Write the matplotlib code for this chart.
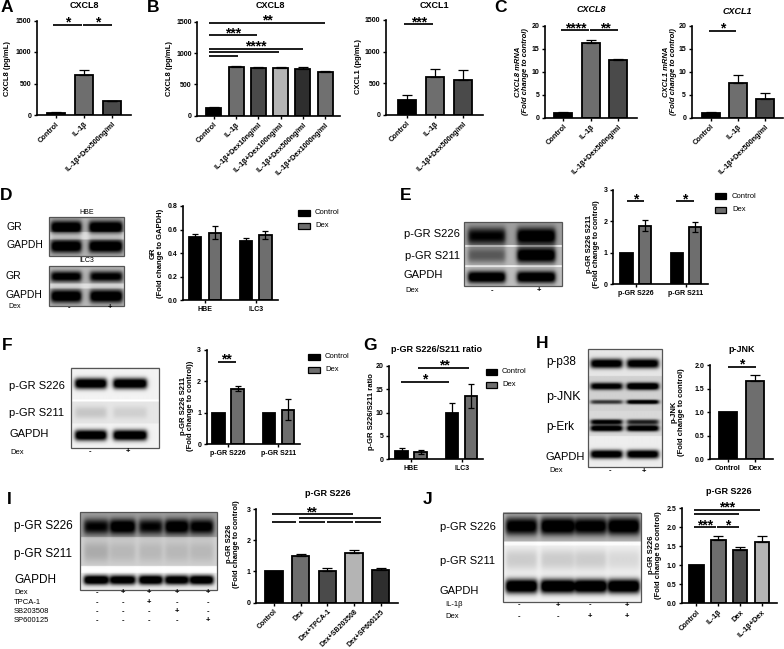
import matplotlib
matplotlib.use('Agg')
import matplotlib.pyplot as plt
from matplotlib.patches import Rectangle
import numpy as np

plt.rcParams['font.family'] = ['Liberation Sans', 'DejaVu Sans']

# values
a_labels = ['Control', 'IL-1β', 'IL-1β+Dex500ng/ml']
a_vals = [30, 635, 215]
a_errs = [10, 85, 10]

b_labels = ['Control', 'IL-1β', 'IL-1β+Dex10ng/ml', 'IL-1β+Dex100ng/ml', 'IL-1β+Dex500ng/ml', 'IL-1β+Dex1000ng/ml']
b_vals = [115, 775, 760, 755, 748, 690]
b_errs = [20, 20, 25, 18, 25, 30]

b2_vals = [230, 591, 549]
b2_errs = [87, 132, 164]

c1_vals = [1.0, 16.3, 12.5]
c1_errs = [0.15, 0.6, 0.4]
c2_vals = [1.0, 7.5, 4.1]
c2_errs = [0.2, 1.85, 1.2]

group_series = ['Control', 'Dex']
d_groups = ['HBE', 'ILC3']
d_control = [0.535, 0.50]
d_control_err = [0.03, 0.03]
d_dex = [0.575, 0.555]
d_dex_err = [0.055, 0.035]

e_groups = ['p-GR S226', 'p-GR S211']
e_control = [1, 1]
e_control_err = [0, 0]
e_dex = [1.87, 1.82]
e_dex_err = [0.17, 0.17]

f_control = [1, 1]
f_control_err = [0, 0]
f_dex = [1.76, 1.1]
f_dex_err = [0.08, 0.33]

g_control = [1.7, 9.8]
g_control_err = [0.8, 2.2]
g_dex = [1.5, 13.5]
g_dex_err = [0.4, 2.5]

h_labels = ['Control', 'Dex']
h_vals = [1, 1.67]
h_errs = [0, 0.12]

i_labels = ['Control', 'Dex', 'Dex+TPCA-1', 'Dex+SB203508', 'Dex+SP600125']
i_vals = [1, 1.5, 1.02, 1.6, 1.06]
i_errs = [0, 0.07, 0.08, 0.1, 0.05]

j_labels = ['Control', 'IL-1β', 'Dex', 'IL-1β+Dex']
j_vals = [1, 1.66, 1.4, 1.61]
j_errs = [0, 0.1, 0.07, 0.15]

W, H = 784, 649
greys = ['#000000', '#6e6e6e', '#4a4a4a', '#b4b4b4', '#2e2e2e', '#707070']

fig = plt.figure(figsize=(W / 100, H / 100), dpi=100)
ov = fig.add_axes([0, 0, 1, 1], zorder=5)
ov.set_xlim(0, W)
ov.set_ylim(H, 0)
ov.axis('off')
ov.patch.set_alpha(0)


def px_axes(left, right, top, bottom):
    ax = fig.add_axes([left / W, 1 - bottom / H, (right - left) / W, (bottom - top) / H])
    ax.spines['top'].set_visible(False)
    ax.spines['right'].set_visible(False)
    ax.spines['left'].set_linewidth(1.2)
    ax.spines['bottom'].set_linewidth(1.2)
    ax.tick_params(axis='both', length=2.5, width=1.0, pad=1.5)
    return ax


def y_setup(ax, ymax, yticks, ylabels):
    ax.set_ylim(0, ymax)
    ax.set_yticks(yticks)
    ax.set_yticklabels(ylabels, fontsize=5, fontweight='bold')


def stars(ax, sigs):
    for x0, x1, y, txt, xs in sigs:
        ax.plot([x0, x1], [y, y], color='black', lw=1.25, clip_on=False, solid_capstyle='butt')
        if txt:
            ax.annotate(txt, (xs, y), xytext=(0, -2), textcoords='offset pixels', ha='center', va='baseline',
                        fontsize=10, fontweight='bold', annotation_clip=False)


def bar_panel(rect, x0, sp, w, labels, vals, errs, ymax, yticks, ylabels, sigs=(), rot=45, size=5.3):
    left, right, top, bottom = rect
    ax = px_axes(left, right, top, bottom)
    x = np.arange(len(vals))
    ax.bar(x, vals, width=w / sp, color=greys[:len(vals)], edgecolor='black', linewidth=1.3)
    for xi, v, e in zip(x, vals, errs):
        if e > 0:
            ax.errorbar(xi, v, yerr=[[0], [e]], color='black', lw=0.9, capsize=3.5, capthick=0.9)
    ax.set_xlim((left - x0) / sp, (right - x0) / sp)
    y_setup(ax, ymax, yticks, ylabels)
    ax.set_xticks(x)
    if rot:
        ax.set_xticklabels(labels, fontsize=size, fontweight='bold', rotation=rot, ha='right', rotation_mode='anchor')
    else:
        ax.set_xticklabels(labels, fontsize=size, fontweight='bold')
    stars(ax, sigs)
    return ax


def group_panel(rect, c0, sp, off, groups, ctrl, ctrl_e, dex, dex_e, ymax, yticks, ylabels, sigs=()):
    left, right, top, bottom = rect
    ax = px_axes(left, right, top, bottom)
    x = np.arange(len(groups))
    o = off / sp
    w = 12.2 / sp
    ax.bar(x - o, ctrl, width=w, color='black', edgecolor='black', linewidth=1.3)
    ax.bar(x + o, dex, width=w, color='#6e6e6e', edgecolor='black', linewidth=1.3)
    for xi, v, e in zip(x - o, ctrl, ctrl_e):
        if e > 0:
            ax.errorbar(xi, v, yerr=e, color='black', lw=0.9, capsize=2.5, capthick=0.9)
    for xi, v, e in zip(x + o, dex, dex_e):
        if e > 0:
            ax.errorbar(xi, v, yerr=e, color='black', lw=0.9, capsize=2.5, capthick=0.9)
    ax.set_xlim((left - c0) / sp, (right - c0) / sp)
    y_setup(ax, ymax, yticks, ylabels)
    ax.set_xticks(x)
    ax.set_xticklabels(groups, fontsize=5, fontweight='bold')
    stars(ax, sigs)
    return ax


def ylab(x, y, txt, style='normal'):
    ov.text(x, y, txt, rotation=90, ha='center', va='center', fontsize=5.5, fontweight='bold',
            fontstyle=style, linespacing=1.05, multialignment='center')


def title(x, y, txt, style='normal'):
    ov.text(x, y, txt, ha='center', va='center', fontsize=6.5, fontweight='bold', fontstyle=style)


def legend_px(x, y1, y2, tx):
    for y, name, c in zip([y1, y2], group_series, ['black', '#6e6e6e']):
        ov.add_patch(Rectangle((x, y - 3), 11.5, 6, facecolor=c, edgecolor='black', lw=0.9))
        ov.text(tx, y, name, ha='left', va='center', fontsize=5.5)


def blot(l, r, t, b, bg, lanes, rows, strips=()):
    ys, xs = np.mgrid[t:b:0.5, l:r:0.5]
    img = np.full(xs.shape, bg, dtype=float)
    for y0, y1, level in strips:
        img[(ys >= y0) & (ys < y1)] = level
    for yc, th, darks in rows:
        for (x0, x1), dark in zip(lanes, darks):
            mx = 0.5 * (np.tanh((xs - x0) / 2.5) - np.tanh((xs - x1) / 2.5))
            my = np.exp(-(np.abs(ys - yc) / (th * 1.2)) ** 2.5)
            img -= 1.25 * dark * mx * my
    ov.imshow(np.clip(img, 0, 1), extent=(l, r, b, t), cmap='gray', vmin=0, vmax=1, aspect='auto',
              interpolation='bilinear')
    ov.add_patch(Rectangle((l, t), r - l, b - t, fill=False, edgecolor='#555555', lw=0.9))
    ov.set_xlim(0, W)
    ov.set_ylim(H, 0)


def blot_text(x, y, txt, size=8):
    ov.text(x, y, txt, ha='left', va='center', fontsize=size)


def sign_row(y, xs, signs):
    for xi, s in zip(xs, signs):
        ov.text(xi, y, s, ha='center', va='center', fontsize=5.5, fontweight='bold')


# panel letters
for (x, y, letter) in [(1, 8, 'A'), (147, 8, 'B'), (494, 7, 'C'), (0, 195, 'D'), (400, 196, 'E'), (2, 345, 'F'),
                       (363, 345, 'G'), (536, 343, 'H'), (7, 500, 'I'), (423, 500, 'J')]:
    ov.text(x, y, letter, ha='left', va='center', fontsize=12.5, fontweight='bold')

# A
bar_panel((37, 131, 20.5, 115), 55.6, 28.2, 18, a_labels, a_vals, a_errs, 1500, [0, 500, 1000, 1500],
          ['0', '500', '1000', '1500'],
          [(-0.08, 0.93, 1436, '*', 0.43), (0.98, 1.99, 1436, '*', 1.48)])
title(84, 5, 'CXCL8')
ylab(8, 68, 'CXCL8 (pg/mL)')

# B
bar_panel((197.3, 340, 21.7, 115.7), 213.7, 22.3, 15, b_labels, b_vals, b_errs, 1500, [0, 500, 1000, 1500],
          ['0', '500', '1000', '1500'],
          [(-0.21, 5.0, 1484, '**', 2.42), (-0.21, 1.93, 1282, '***', 0.87), (-0.21, 3.99, 1069, '****', 1.9),
           (-0.21, 2.91, 1016, '', 0), (-0.21, 1.08, 957, '', 0)])
title(270, 5, 'CXCL8')
ylab(170, 68, 'CXCL8 (pg/mL)')

bar_panel((386, 482.7, 20, 114.7), 406.5, 28.3, 18, a_labels, b2_vals, b2_errs, 1500, [0, 500, 1000, 1500],
          ['0', '500', '1000', '1500'],
          [(-0.08, 0.95, 1436, '***', 0.44)])
title(434, 5, 'CXCL1')
ylab(359, 67, 'CXCL1 (pg/mL)')

# C
bar_panel((545, 637, 26, 117.7), 563.3, 27.5, 18, a_labels, c1_vals, c1_errs, 20, [0, 5, 10, 15, 20],
          ['0', '5', '10', '15', '20'],
          [(-0.07, 0.93, 19.13, '****', 0.46), (0.97, 1.98, 19.13, '**', 1.52)])
title(591, 10, 'CXCL8', 'italic')
ylab(522, 72, 'CXCL8 mRNA\n(Fold change to control)', 'italic')

bar_panel((691.7, 783, 26, 117.7), 710.7, 27.3, 18, a_labels, c2_vals, c2_errs, 20, [0, 5, 10, 15, 20],
          ['0', '5', '10', '15', '20'],
          [(-0.07, 0.93, 18.98, '*', 0.43)])
title(737.7, 11, 'CXCL1', 'italic')
ylab(670, 72, 'CXCL1 mRNA\n(Fold change to control)', 'italic')

# D
blot(49, 124, 216.7, 255.7, 0.7, [(51, 81), (89, 122)],
     [(226.7, 5.5, [0.7, 0.7]), (245.7, 5.5, [0.7, 0.7])], [(231.7, 239, 0.88)])
blot(49, 124, 265.7, 305.7, 0.72, [(51, 81), (90, 122)],
     [(276, 4.5, [0.65, 0.62]), (295.7, 5.5, [0.72, 0.72])], [(283, 288, 0.88)])
blot_text(6.5, 226.5, 'GR', 7.5)
blot_text(6.5, 245, 'GAPDH', 7.5)
blot_text(5.5, 276, 'GR', 7.5)
blot_text(5.5, 295, 'GAPDH', 7.5)
ov.text(87, 212, 'HBE', ha='center', va='center', fontsize=5)
ov.text(87, 261, 'ILC3', ha='center', va='center', fontsize=5)
ov.text(8, 306.7, 'Dex', ha='left', va='center', fontsize=5)
sign_row(308, [69, 110], ['-', '+'])

group_panel((183.3, 277.7, 206, 300.3), 205, 50.7, 9.7, d_groups, d_control, d_control_err, d_dex, d_dex_err,
            0.8, [0, 0.2, 0.4, 0.6, 0.8], ['0.0', '0.2', '0.4', '0.6', '0.8'])
ylab(157, 253, 'GR\n(Fold change to GAPDH)')
legend_px(298.5, 212.7, 225.7, 315)

# E
blot(464, 561.7, 222.3, 285.7, 0.62, [(468, 505), (517, 555)],
     [(236, 7, [0.5, 0.6]), (255, 6.5, [0.3, 0.7]), (276.7, 5, [0.75, 0.75])],
     [(245, 246.5, 1.0), (246.5, 265, 0.72), (265, 266.5, 1.0), (266.5, 286, 0.75)])
blot_text(404, 234, 'p-GR S226')
blot_text(405, 256, 'p-GR S211')
blot_text(404, 274.5, 'GAPDH')
ov.text(405, 290.7, 'Dex', ha='left', va='center', fontsize=5.5)
sign_row(290.7, [491.7, 539], ['-', '+'])

group_panel((613.3, 708.3, 190, 284.3), 635.7, 50.3, 9.3, e_groups, e_control, e_control_err, e_dex, e_dex_err,
            3, [0, 1, 2, 3], ['0', '1', '2', '3'],
            [(-0.18, 0.165, 2.65, '*', 0), (0.8, 1.16, 2.65, '*', 0.98)])
ylab(593, 244, 'p-GR S226 S211\n(Fold change to control)')
legend_px(715, 196, 209.5, 732)

# F
blot(71, 159.3, 367.7, 448.3, 0.95, [(75, 106), (113, 146)],
     [(384, 4.5, [0.95, 0.95]), (413, 5, [0.1, 0.07]), (435.7, 4.5, [0.95, 0.95])],
     [(400, 402, 1.0), (402, 424, 0.9)])
blot_text(9.3, 386, 'p-GR S226')
blot_text(9.3, 413, 'p-GR S211')
blot_text(9.3, 434, 'GAPDH')
ov.text(10, 452, 'Dex', ha='left', va='center', fontsize=5.5)
sign_row(452, [90, 128], ['-', '+'])

group_panel((206.7, 300, 350, 444.3), 228, 50.3, 9.5, e_groups, f_control, f_control_err, f_dex, f_dex_err,
            3, [0, 1, 2, 3], ['0', '1', '2', '3'],
            [(-0.19, 0.15, 2.63, '**', -0.03)])
ylab(186.7, 406, 'p-GR S226 S211\n(Fold change to control))')
legend_px(308.5, 356.7, 369.7, 325)

# G
group_panel((389.3, 483.3, 365.7, 459.3), 411, 50.7, 9.5, d_groups, g_control, g_control_err, g_dex, g_dex_err,
            20, [0, 5, 10, 15, 20], ['0', '5', '10', '15', '20'],
            [(-0.2, 0.75, 16.6, '*', 0.28), (0.14, 1.14, 19.6, '**', 0.65)])
title(437, 349, 'p-GR S226/S211 ratio')
ylab(372, 412, 'p-GR S226/S211 ratio')
legend_px(485.7, 371.7, 385, 502)

# H
blot(588.3, 661.7, 349, 466.7, 0.93, [(591, 622), (627, 658)],
     [(363.3, 4, [0.85, 0.85]), (386, 3, [0.75, 0.9]), (401.7, 1.8, [0.5, 0.8]),
      (421.7, 2.2, [0.75, 0.6]), (428, 2.6, [0.85, 0.85]), (454, 3.6, [0.9, 0.9])],
     [(349, 376, 0.9), (376, 411, 0.82), (411, 436, 0.85)])
blot_text(546, 362, 'p-p38', 8.5)
blot_text(546, 396.7, 'p-JNK', 9)
blot_text(546, 426.7, 'p-Erk', 8.5)
blot_text(546, 456.7, 'GAPDH', 8)
ov.text(549, 471, 'Dex', ha='left', va='center', fontsize=5.5)
sign_row(471, [610, 644], ['-', '+'])

bar_panel((710, 773, 365, 459.3), 728, 27, 18, h_labels, h_vals, h_errs, 2, [0, 0.5, 1, 1.5, 2],
          ['0.0', '0.5', '1.0', '1.5', '2.0'],
          [(-0.01, 1.04, 1.965, '*', 0.51)], rot=0, size=5.2)
title(741.7, 349, 'p-JNK')
ylab(678, 412, 'p-JNK\n(Fold change to control)')

# I
i_lanes = [(84, 108), (110, 135), (139, 162), (165, 188), (190, 213)]
blot(80, 216.7, 512.3, 590, 0.62, i_lanes,
     [(526.7, 6.5, [0.5, 0.6, 0.5, 0.6, 0.55]), (551.7, 9, [0.12, 0.08, 0.08, 0.08, 0.08]),
      (580, 4, [0.95, 0.9, 0.95, 0.9, 0.95])],
     [(537, 566, 0.82), (566, 573, 1.0), (573, 590, 0.92)])
blot_text(14, 525.7, 'p-GR S226', 8.5)
blot_text(14, 554, 'p-GR S211', 8.5)
blot_text(14, 580, 'GAPDH', 8.5)
i_sign_x = [96.7, 122.7, 149.3, 177, 207.7]
i_signs = {'Dex': ['-', '+', '+', '+', '+'], 'TPCA-1': ['-', '-', '+', '-', '-'],
           'SB203508': ['-', '-', '-', '+', '-'], 'SP600125': ['-', '-', '-', '-', '+']}
for y, name in zip([592.7, 602.7, 611.7, 620.7], i_signs):
    ov.text(14, y, name, ha='left', va='center', fontsize=5.5)
    sign_row(y, i_sign_x, i_signs[name])

bar_panel((256, 398, 509, 602.7), 274, 26.67, 17.3, i_labels, i_vals, i_errs, 3, [0, 1, 2, 3],
          ['0', '1', '2', '3'],
          [(-0.09, 2.95, 2.84, '**', 1.41), (0.95, 4.0, 2.71, '', 0), (-0.09, 0.83, 2.58, '', 0),
           (0.95, 1.91, 2.58, '', 0), (2.0, 2.95, 2.58, '', 0), (3.04, 4.0, 2.58, '', 0)], size=5)
title(327.7, 493, 'p-GR S226')
ylab(233, 544, 'p-GR S226\n(Fold change to control)')

# J
j_lanes = [(506, 537), (541, 574), (575, 606), (608, 639)]
blot(503.3, 640.7, 512.7, 602.3, 0.72, j_lanes,
     [(526.7, 7.5, [0.65, 0.7, 0.65, 0.7]), (560, 9, [0.12, 0.12, 0.12, 0.08]), (586.7, 6, [1.0, 1.0, 1.0, 1.0])],
     [(542, 546, 1.0), (546, 602.4, 0.95)])
blot_text(440, 526.7, 'p-GR S226')
blot_text(440, 561, 'p-GR S211')
blot_text(440, 591, 'GAPDH')
j_sign_x = [519.3, 558.3, 590, 626.7]
ov.text(445, 605, 'IL-1β', ha='left', va='center', fontsize=5.5)
ov.text(445, 616.7, 'Dex', ha='left', va='center', fontsize=5.5)
sign_row(605, j_sign_x, ['-', '+', '-', '+'])
sign_row(616.7, j_sign_x, ['-', '-', '+', '+'])

bar_panel((681.7, 776.7, 508.3, 603), 696.3, 21.9, 14.7, j_labels, j_vals, j_errs, 2.5,
          [0, 0.5, 1, 1.5, 2, 2.5], ['0.0', '0.5', '1.0', '1.5', '2.0', '2.5'],
          [(-0.1, 2.91, 2.456, '***', 1.42), (-0.1, 1.95, 2.35, '', 0), (-0.1, 0.9, 2.0, '***', 0.4),
           (0.96, 1.95, 2.0, '*', 1.45)])
title(729, 492, 'p-GR S226')
ylab(655, 555, 'p-GR S226\n(Fold change to control)')

fig.savefig('out.png', dpi=100)
